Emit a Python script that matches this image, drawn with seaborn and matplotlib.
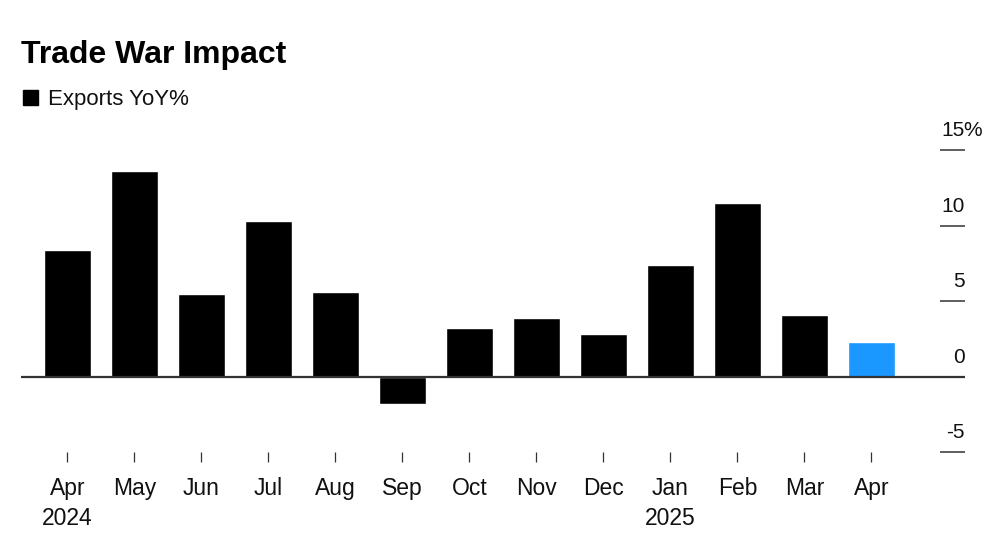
import matplotlib
matplotlib.use("Agg")
import matplotlib.pyplot as plt
import matplotlib.transforms as mtransforms
from matplotlib.patches import Rectangle
import seaborn as sns

# -------------------
# Data
# -------------------
months = ["Apr 2024", "May 2024", "Jun 2024", "Jul 2024", "Aug 2024", "Sep 2024",
          "Oct 2024", "Nov 2024", "Dec 2024", "Jan 2025", "Feb 2025", "Mar 2025", "Apr 2025"]
tick_labels = ["Apr\n2024", "May", "Jun", "Jul", "Aug", "Sep", "Oct", "Nov", "Dec",
               "Jan\n2025", "Feb", "Mar", "Apr"]
exports_yoy = [8.4, 13.6, 5.5, 10.3, 5.6, -1.8, 3.2, 3.9, 2.8, 7.4, 11.5, 4.1, 2.3]
bar_colors = ["#000000"] * 12 + ["#1A98FF"]
y_ticks = [15, 10, 5, 0, -5]

sns.set_theme(style="white")
plt.rcParams["font.family"] = ["Liberation Sans", "DejaVu Sans"]

fig = plt.figure(figsize=(10, 5.45), dpi=100)
ax = fig.add_axes([0.021, 0.1523, 0.944, 0.5908])

sns.barplot(x=months, y=exports_yoy, hue=months, palette=bar_colors,
            legend=False, width=0.7, saturation=1, ax=ax)

ax.set_xlim(-0.694, 12.5 + 0.896)
ax.set_ylim(-5.65, 15.68)
ax.axhline(0, color="#333333", lw=1.6, zorder=3)

for s in ax.spines.values():
    s.set_visible(False)

# x ticks: short vertical marks above the labels
ax.set_xticks(range(len(months)))
ax.set_xticklabels(tick_labels, fontsize=16.5, color="#111111", linespacing=1.42, va="top")
ax.tick_params(axis="x", direction="in", length=7.2, width=0.9, color="#333333",
               pad=10.5, bottom=True)

# y ticks on the right, labels sit above the tick lines
ax.yaxis.tick_right()
ax.set_yticks(y_ticks)
ax.set_yticklabels([])
ax.tick_params(axis="y", direction="in", length=18, width=1.1, color="#333333", right=True)
trans = mtransforms.blended_transform_factory(ax.transAxes, ax.transData)
lab_trans = mtransforms.offset_copy(trans, fig=fig, x=0, y=14, units="dots")
pct_trans = mtransforms.offset_copy(trans, fig=fig, x=-1.5, y=14, units="dots")
for t in y_ticks:
    ax.text(1.0, t, str(t), transform=lab_trans, ha="right", va="baseline",
            fontsize=15, color="#111111")
    if t == 15:
        ax.text(1.0, t, "%", transform=pct_trans, ha="left", va="baseline",
                fontsize=15, color="#111111")

ax.set_xlabel("")
ax.set_ylabel("")

# Title and legend
fig.text(0.021, 1 - 63 / 545, "Trade War Impact", fontsize=23, fontweight="bold",
         color="#000000", ha="left", va="baseline")
fig.patches.append(Rectangle((0.023, 1 - 105 / 545), 0.015, 15 / 545,
                             transform=fig.transFigure, color="#000000"))
fig.text(0.048, 1 - 105 / 545, "Exports YoY%", fontsize=16, color="#111111",
         ha="left", va="baseline")

fig.savefig("out.png", dpi=100, facecolor="white")
plt.close(fig)
